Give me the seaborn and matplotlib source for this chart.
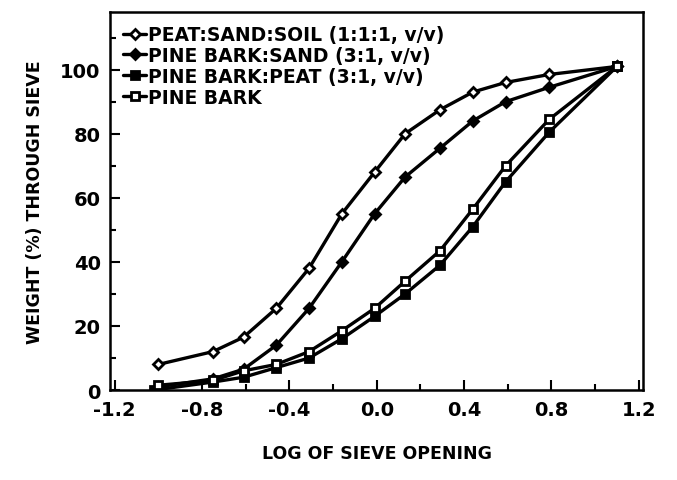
import pandas as pd
import matplotlib.pyplot as plt
import seaborn as sns
from matplotlib.ticker import MultipleLocator

# log of sieve opening
log_opening = [-1.0, -0.75, -0.61, -0.46, -0.31, -0.16, -0.01, 0.13, 0.29, 0.44, 0.59, 0.79, 1.10]
log_opening_pbp = [-1.02, -0.75, -0.61, -0.46, -0.31, -0.16, -0.01, 0.13, 0.29, 0.44, 0.59, 0.79, 1.10]

peat_sand_soil = [8, 12, 16.5, 25.5, 38, 55, 68, 80, 87.5, 93, 96, 98.5, 101]
pine_bark_sand = [1, 3.5, 6.5, 14, 25.5, 40, 55, 66.5, 75.5, 84, 90, 94.5, 101]
pine_bark_peat = [0, 2.5, 4, 7, 10, 16, 23, 30, 39, 51, 65, 80.5, 101]
pine_bark = [1.5, 3, 6, 8, 12, 18.5, 25.5, 34, 43.5, 56.5, 70, 84.5, 101]

labels = ["PEAT:SAND:SOIL (1:1:1, v/v)", "PINE BARK:SAND (3:1, v/v)",
          "PINE BARK:PEAT (3:1, v/v)", "PINE BARK"]

sns.set_style("ticks", {"axes.edgecolor": "black", "text.color": "black",
                        "axes.labelcolor": "black", "xtick.color": "black",
                        "ytick.color": "black"})
plt.rcParams['font.family'] = ['DejaVu Sans']
plt.rcParams['font.weight'] = 'bold'

fig, ax = plt.subplots(figsize=(6.77, 4.81), dpi=100)
fig.subplots_adjust(left=0.163, right=0.95, bottom=0.187, top=0.973)

series = [
    (log_opening, peat_sand_soil, "D", "white", 5.5),
    (log_opening, pine_bark_sand, "D", "black", 5.5),
    (log_opening_pbp, pine_bark_peat, "s", "black", 6),
    (log_opening, pine_bark, "s", "white", 6),
]
for (xs, ys, mk, fc, ms), lab in zip(series, labels):
    df = pd.DataFrame({"x": xs, "y": ys})
    sns.lineplot(data=df, x="x", y="y", ax=ax, color="black", lw=2.4,
                 marker=mk, markersize=ms, markerfacecolor=fc,
                 markeredgecolor="black", markeredgewidth=2.0, label=lab)

ax.set_xlim(-1.22, 1.22)
ax.set_ylim(0, 118)
ax.xaxis.set_minor_locator(MultipleLocator(0.2))
ax.yaxis.set_minor_locator(MultipleLocator(10))
ax.set_xticks([-1.2, -0.8, -0.4, 0.0, 0.4, 0.8, 1.2])
ax.set_xticklabels(["-1.2", "-0.8", "-0.4", "0.0", "0.4", "0.8", "1.2"])
ax.set_yticks([0, 20, 40, 60, 80, 100])
ax.tick_params(which="major", direction="in", length=7, width=1.5,
               labelsize=14, pad=7, colors="black")
ax.tick_params(which="minor", direction="in", length=4, width=1.5, colors="black")
for lbl in ax.get_xticklabels() + ax.get_yticklabels():
    lbl.set_fontweight("bold")
for sp in ax.spines.values():
    sp.set_linewidth(1.8)
    sp.set_color("black")

ax.set_xlabel("LOG OF SIEVE OPENING", fontsize=12.5, fontweight="bold",
              labelpad=18, color="black")
ax.set_ylabel("WEIGHT (%) THROUGH SIEVE", fontsize=12.5, fontweight="bold",
              labelpad=12, color="black")

leg = ax.legend(loc="upper left", frameon=False, fontsize=13.5, handlelength=1.2,
                handletextpad=0.1, labelspacing=0.1, borderaxespad=0.3,
                bbox_to_anchor=(0.0, 1.0))
for t in leg.get_texts():
    t.set_fontweight("bold")
    t.set_color("black")

fig.savefig("out.png", dpi=100)
